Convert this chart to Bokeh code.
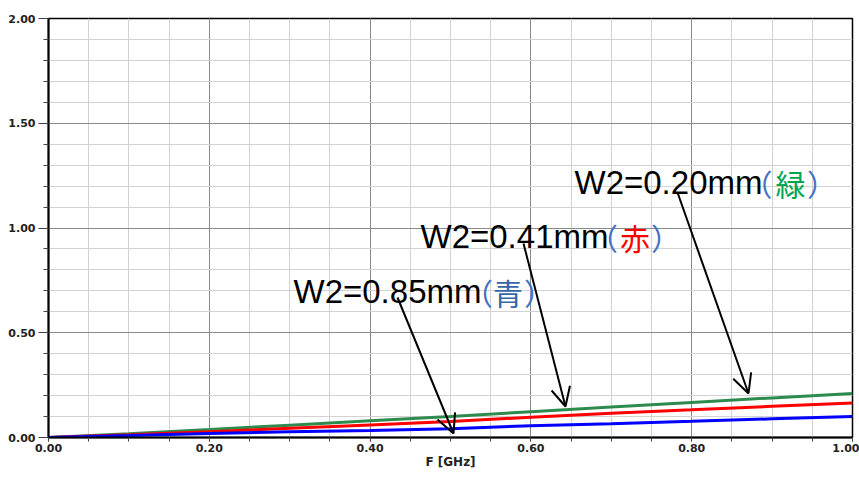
from bokeh.plotting import figure
from bokeh.models import FixedTicker, Arrow, OpenHead, ColumnDataSource, Range1d, PrintfTickFormatter
from bokeh.core.properties import value
from bokeh.embed import file_html
from bokeh.resources import INLINE

# ---- data ----
freq = [0.0, 0.1, 0.2, 0.3, 0.4, 0.5, 0.6, 0.7, 0.8, 0.9, 1.0]
w020_green = [0.0, 0.018, 0.038, 0.059, 0.080, 0.100, 0.123, 0.145, 0.167, 0.189, 0.210]
w041_red = [0.0, 0.013, 0.028, 0.044, 0.060, 0.076, 0.097, 0.116, 0.132, 0.149, 0.165]
w085_blue = [0.0, 0.009, 0.019, 0.027, 0.034, 0.042, 0.056, 0.066, 0.077, 0.089, 0.100]

x_ticks = [0.0, 0.2, 0.4, 0.6, 0.8, 1.0]
x_minor = [i * 0.05 for i in range(21)]
y_ticks = [0.0, 0.5, 1.0, 1.5, 2.0]
y_minor = [i * 0.1 for i in range(21)]

label_texts = ["W2=0.85mm", "W2=0.41mm", "W2=0.20mm"]
label_chars = ["青", "赤", "緑"]

# ---- figure geometry ----
W, H = 859, 477
BL, BR, BT, BB = 48, 7, 18, 40
FW = W - BL - BR
FH = H - BT - BB

p = figure(width=W, height=H, output_backend="svg", toolbar_location=None,
           x_range=Range1d(0, 1), y_range=Range1d(0, 2),
           min_border_left=BL, min_border_right=BR, min_border_top=BT, min_border_bottom=BB)
p.background_fill_color = "white"
p.border_fill_color = "white"
p.outline_line_color = "black"
p.outline_line_width = 1.5

# axes
p.xaxis.ticker = FixedTicker(ticks=x_ticks, minor_ticks=x_minor)
p.yaxis.ticker = FixedTicker(ticks=y_ticks, minor_ticks=y_minor)
for ax in (p.xaxis[0], p.yaxis[0]):
    ax.formatter = PrintfTickFormatter(format="%.2f")
    ax.axis_line_color = "black"
    ax.axis_line_width = 2
    ax.major_tick_line_color = "#444444"
    ax.minor_tick_line_color = "#444444"
    ax.major_tick_in = 0
    ax.minor_tick_in = 0
    ax.major_label_text_font = "DejaVu Sans"
    ax.major_label_text_font_style = "bold"
    ax.major_label_text_font_size = "11px"
    ax.major_label_text_color = "#222222"
p.yaxis.major_tick_out = 10
p.yaxis.minor_tick_out = 5
p.yaxis.major_label_standoff = 3
p.xaxis.major_tick_out = 4
p.xaxis.minor_tick_out = 4
p.xaxis.major_label_standoff = 2
p.xaxis.axis_label = "F [GHz]"
p.xaxis.axis_label_text_font = "DejaVu Sans"
p.xaxis.axis_label_text_font_style = "bold"
p.xaxis.axis_label_text_font_size = "12px"
p.xaxis.axis_label_text_color = "#222222"
p.xaxis.axis_label_standoff = 0

# grid
for g in (p.xgrid[0], p.ygrid[0]):
    g.grid_line_color = "#8a8a8a"
    g.grid_line_width = 1
    g.minor_grid_line_color = "#d2d2d2"
    g.minor_grid_line_width = 1

# curves
src = ColumnDataSource(dict(f=freq, g=w020_green, r=w041_red, b=w085_blue))
p.line("f", "g", source=src, line_color="#2e8b4e", line_width=3)
p.line("f", "r", source=src, line_color="#ff0000", line_width=3)
p.line("f", "b", source=src, line_color="#0000ff", line_width=3)

# pixel helpers (screen position -> data units)
X0 = BL
Y0 = BT
def dx(px):
    return (px - X0) / FW * 1.0
def dy(py):
    return (Y0 + FH - py) / FH * 2.0

# annotation labels
lat_left = [293, 420, 574]
baseline = [291, 236, 182]
paren_l = [485, 610, 764.5]
char_c = [507.5, 634.5, 790]
paren_r = [531, 658, 814]
char_colors = ["#3567a8", "#ff0000", "#00a550"]
paren_color = "#4472c4"
CJK = 30
shift = 0.25 * CJK

p.text(x=[dx(v) for v in lat_left], y=[dy(v) for v in baseline], text=label_texts,
       text_font=value("Liberation Sans"), text_font_size="33px", text_color="black",
       text_baseline="alphabetic", text_align="left")
p.text(x=[dx(v) for v in char_c], y=[dy(v) for v in baseline], text=label_chars,
       text_font=value("Noto Sans CJK JP"), text_font_size=f"{CJK}px", text_color=char_colors,
       text_baseline="alphabetic", text_align="center")
p.text(x=[dx(v - shift) for v in paren_l], y=[dy(v) for v in baseline], text=["（"] * 3,
       text_font=value("Noto Sans CJK JP"), text_font_size=f"{CJK}px", text_color=paren_color,
       text_baseline="alphabetic", text_align="center")
p.text(x=[dx(v + shift) for v in paren_r], y=[dy(v) for v in baseline], text=["）"] * 3,
       text_font=value("Noto Sans CJK JP"), text_font_size=f"{CJK}px", text_color=paren_color,
       text_baseline="alphabetic", text_align="center")

# arrows
arrow_start = [(397, 297), (523, 243), (677, 192)]
arrow_end = [(453, 433), (565, 406), (748, 393)]
for (sx, sy), (ex, ey) in zip(arrow_start, arrow_end):
    p.add_layout(Arrow(end=OpenHead(size=19, line_width=2, line_color="black"),
                       x_start=dx(sx), y_start=dy(sy), x_end=dx(ex), y_end=dy(ey),
                       line_width=2, line_color="black"))

open("out.html", "w").write(file_html(p, INLINE))
